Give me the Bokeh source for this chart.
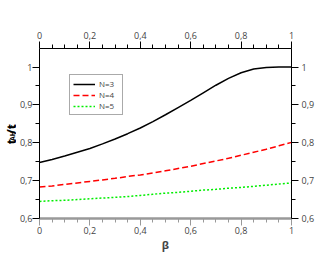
import math
from bokeh.plotting import figure
from bokeh.layouts import row
from bokeh.models import (Range1d, LinearAxis, FixedTicker,
                          CustomJSTickFormatter, Legend, LegendItem, Label)
from bokeh.embed import file_html
from bokeh.resources import INLINE

# ---- data ----
beta = [0.0, 0.05, 0.1, 0.15, 0.2, 0.25, 0.3, 0.35, 0.4, 0.45, 0.5,
        0.55, 0.6, 0.65, 0.7, 0.75, 0.8, 0.85, 0.9, 0.95, 1.0]
n3 = [0.748, 0.756, 0.765, 0.775, 0.785, 0.797, 0.810, 0.824, 0.839, 0.856, 0.874,
      0.893, 0.912, 0.932, 0.952, 0.970, 0.985, 0.995, 0.999, 1.000, 1.000]
n4 = [0.683, 0.686, 0.690, 0.694, 0.698, 0.702, 0.706, 0.711, 0.715, 0.720, 0.726,
      0.732, 0.738, 0.745, 0.752, 0.759, 0.767, 0.775, 0.783, 0.792, 0.801]
n5 = [0.645, 0.647, 0.648, 0.650, 0.652, 0.654, 0.656, 0.658, 0.661, 0.664, 0.667,
      0.669, 0.672, 0.675, 0.677, 0.680, 0.682, 0.685, 0.688, 0.691, 0.694]
series_names = ["N=3", "N=4", "N=5"]

x_major = [0, 0.2, 0.4, 0.6, 0.8, 1.0]
x_minor = [0.05, 0.1, 0.15, 0.25, 0.3, 0.35, 0.45, 0.5, 0.55, 0.65, 0.7, 0.75, 0.85, 0.9, 0.95]
y_major = [0.6, 0.7, 0.8, 0.9, 1.0]
y_minor = [0.65, 0.75, 0.85, 0.95]

LABW = 16

p = figure(width=336 - LABW, height=254, output_backend="svg", toolbar_location=None,
           x_range=Range1d(0, 1), y_range=Range1d(0.6, 1.049),
           min_border_left=21, min_border_right=45, min_border_top=48,
           min_border_bottom=35, x_axis_location=None, y_axis_location=None)
p.outline_line_color = None
p.xgrid.visible = False
p.ygrid.visible = False
p.border_fill_color = None
p.background_fill_color = "white"

fmt = CustomJSTickFormatter(code="""
const r = Math.round(tick);
let s = (Math.abs(tick - r) < 1e-9) ? r.toString() : tick.toFixed(1);
return s.replace('.', ',');
""")

def style(ax, color="black", width=1):
    ax.formatter = fmt
    ax.axis_line_color = color
    ax.axis_line_width = width
    ax.major_tick_line_color = color
    ax.major_tick_line_width = 1
    ax.major_tick_line_alpha = 1.0
    ax.minor_tick_line_color = color
    ax.minor_tick_line_width = 1
    ax.minor_tick_line_alpha = 1.0
    ax.major_tick_out = 7
    ax.major_tick_in = 0
    ax.minor_tick_out = 4
    ax.minor_tick_in = 0
    ax.major_label_text_font = "Open Sans"
    ax.major_label_text_font_size = "9px"
    ax.major_label_text_color = "#444444"
    ax.major_label_standoff = 3

bottom = LinearAxis(ticker=FixedTicker(ticks=x_major, minor_ticks=x_minor))
style(bottom, color="#999999", width=2.5)
bottom.major_label_standoff = 1
bottom.axis_label = "β"
bottom.axis_label_text_font = "Open Sans"
bottom.axis_label_text_font_style = "bold"
bottom.axis_label_text_font_size = "11px"
bottom.axis_label_standoff = 0
p.add_layout(bottom, "below")

top = LinearAxis(ticker=FixedTicker(ticks=x_major, minor_ticks=x_minor))
style(top)
p.add_layout(top, "above")

left = LinearAxis(ticker=FixedTicker(ticks=y_major, minor_ticks=y_minor))
style(left)
left.major_label_standoff = 0
p.add_layout(left, "left")

right = LinearAxis(ticker=FixedTicker(ticks=y_major, minor_ticks=y_minor))
style(right)
p.add_layout(right, "right")

r3 = p.line(beta, n3, line_color="black", line_width=1.5)
r4 = p.line(beta, n4, line_color="#ff0000", line_width=1.5, line_dash="6 3")
r5 = p.line(beta, n5, line_color="#00ee00", line_width=1.5, line_dash="2 2")

legend = Legend(items=[LegendItem(label=series_names[0], renderers=[r3]),
                       LegendItem(label=series_names[1], renderers=[r4]),
                       LegendItem(label=series_names[2], renderers=[r5])],
                location=(30, 103))
legend.label_text_font = "Open Sans"
legend.label_text_font_size = "8px"
legend.label_height = 8
legend.glyph_height = 8
legend.glyph_width = 22
legend.label_standoff = 4
legend.spacing = 0
legend.padding = 3
legend.margin = 0
legend.border_line_color = "#555555"
legend.border_line_width = 1
legend.background_fill_alpha = 1
p.add_layout(legend, "center")

# y-axis label  t_AH / t_c  drawn in a narrow side figure (pixel coordinates)
lab = figure(width=LABW, height=254, output_backend="svg", toolbar_location=None,
             x_range=Range1d(0, LABW), y_range=Range1d(0, 254),
             min_border_left=0, min_border_right=0, min_border_top=0, min_border_bottom=0,
             x_axis_location=None, y_axis_location=None)
lab.outline_line_color = None
lab.xgrid.visible = False
lab.ygrid.visible = False
lab.border_fill_color = None
lab.background_fill_color = None
base_x = 11.0
base_y = 254 - 143.0
pieces = [("t", 12, 0.0, 0.0), ("AH", 7, 4.8, 1.3), ("/t", 12, 14.9, 0.0), ("c", 7, 24.0, 1.3)]
for txt, fs, dy, dx in pieces:
    lab.add_layout(Label(x=base_x + dx, y=base_y + dy, text=txt, angle=math.pi / 2,
                         text_font="Open Sans", text_font_style="bold",
                         text_font_size=f"{fs}px", text_color="black",
                         text_align="left", text_baseline="alphabetic"))

layout = row(lab, p, spacing=0)
open("out.html", "w").write(file_html(layout, INLINE))
